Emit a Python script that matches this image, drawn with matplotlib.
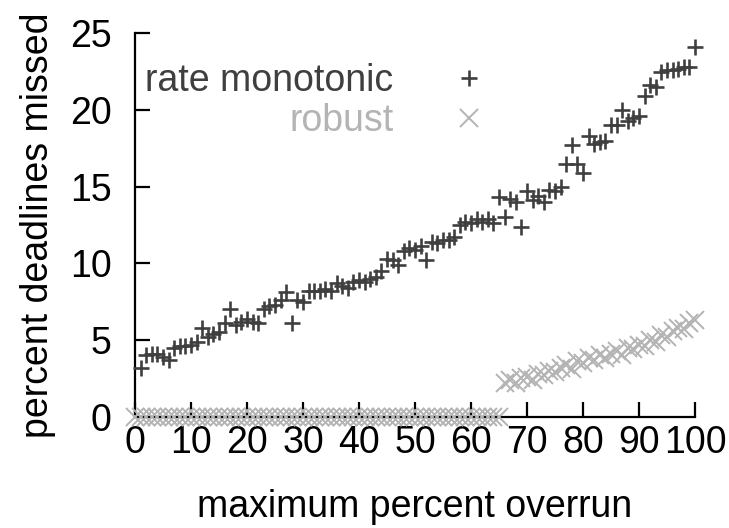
import matplotlib
matplotlib.use("Agg")
import matplotlib.pyplot as plt
import numpy as np

plt.rcParams['font.family'] = ['Liberation Sans', 'DejaVu Sans']

# --- data ---
rm_x = list(range(1, 101))
rm_y = [3.2, 4.0, 4.1, 4.1, 3.9, 3.7, 4.5, 4.6, 4.6, 4.7,
        4.9, 5.8, 5.2, 5.4, 5.5, 6.1, 7.0, 6.0, 6.2, 6.4,
        6.2, 6.1, 7.0, 7.2, 7.3, 7.6, 8.1, 6.1, 7.6, 7.5,
        8.2, 8.2, 8.2, 8.3, 8.2, 8.7, 8.5, 8.4, 8.8, 8.9,
        8.8, 9.0, 9.1, 9.5, 10.3, 10.2, 9.9, 10.8, 11.0, 10.9,
        11.1, 10.2, 11.4, 11.3, 11.5, 11.5, 11.7, 12.5, 12.7, 12.6,
        12.9, 12.7, 12.9, 12.6, 14.3, 13.0, 14.2, 14.0, 12.4, 14.7,
        14.1, 14.4, 14.0, 14.8, 14.7, 15.0, 16.5, 17.7, 16.5, 15.9,
        18.3, 17.8, 17.9, 18.0, 19.0, 19.0, 20.0, 19.3, 19.5, 19.6,
        20.9, 21.6, 21.5, 22.5, 22.6, 22.6, 22.7, 22.8, 22.8, 24.1]

rb_x = list(range(0, 101))
rb_y = [0.0] * 66 + [2.2, 2.4, 2.2, 2.5, 2.6, 2.4, 2.8, 2.7, 3.0, 2.9,
                     3.2, 3.4, 3.1, 3.6, 3.5, 3.8, 3.7, 4.0, 3.8, 4.1,
                     4.3, 4.0, 4.5, 4.4, 4.7, 4.6, 5.0, 4.9, 5.3, 5.2,
                     5.6, 5.8, 5.7, 6.1, 6.3]

x_ticks = list(range(0, 101, 10))
y_ticks = list(range(0, 26, 5))

labels = ["rate monotonic", "robust"]
xlabel = "maximum percent overrun"
ylabel = "percent deadlines missed"

dark = "#3f3f3f"
light = "#b4b4b4"
FS = 27

W, H = 729, 528
fig = plt.figure(figsize=(W / 100, H / 100), dpi=100)
ax = fig.add_axes([135 / W, 1 - 416.7 / H, (695 - 135) / W, (416.7 - 33.3) / H])

ax.plot(rb_x, rb_y, linestyle='none', marker='x', markersize=13.5,
        markeredgewidth=1.4, color=light, label=labels[1], clip_on=False, zorder=4)
ax.plot(rm_x, rm_y, linestyle='none', marker='+', markersize=11.5,
        markeredgewidth=1.9, color=dark, label=labels[0], clip_on=False, zorder=5)

ax.set_xlim(0, 100)
ax.set_ylim(0, 25)
ax.set_xticks(x_ticks)
ax.set_yticks(y_ticks)
for s in ['top', 'right']:
    ax.spines[s].set_visible(False)
for s in ['left', 'bottom']:
    ax.spines[s].set_linewidth(1.6)
    ax.spines[s].set_color('black')
ax.tick_params(direction='in', length=11, width=1.6, labelsize=FS, colors='black')
ax.tick_params(axis='x', pad=6)
ax.tick_params(axis='y', pad=17)

ax.set_xlabel(xlabel, fontsize=FS, labelpad=20)
ax.set_ylabel(ylabel, fontsize=FS, labelpad=10)

handles, labs = ax.get_legend_handles_labels()
order = [1, 0]
leg = ax.legend([handles[i] for i in order], [labs[i] for i in order],
                loc='upper right', bbox_to_anchor=(506 / W, 1 - 63 / H),
                bbox_transform=fig.transFigure, frameon=False, markerfirst=False,
                fontsize=FS, handlelength=2.0, handletextpad=1.0,
                labelspacing=0.1, borderpad=0, borderaxespad=0, numpoints=1)
for t, c in zip(leg.get_texts(), [dark, light]):
    t.set_color(c)

fig.savefig("out.png", dpi=100)
